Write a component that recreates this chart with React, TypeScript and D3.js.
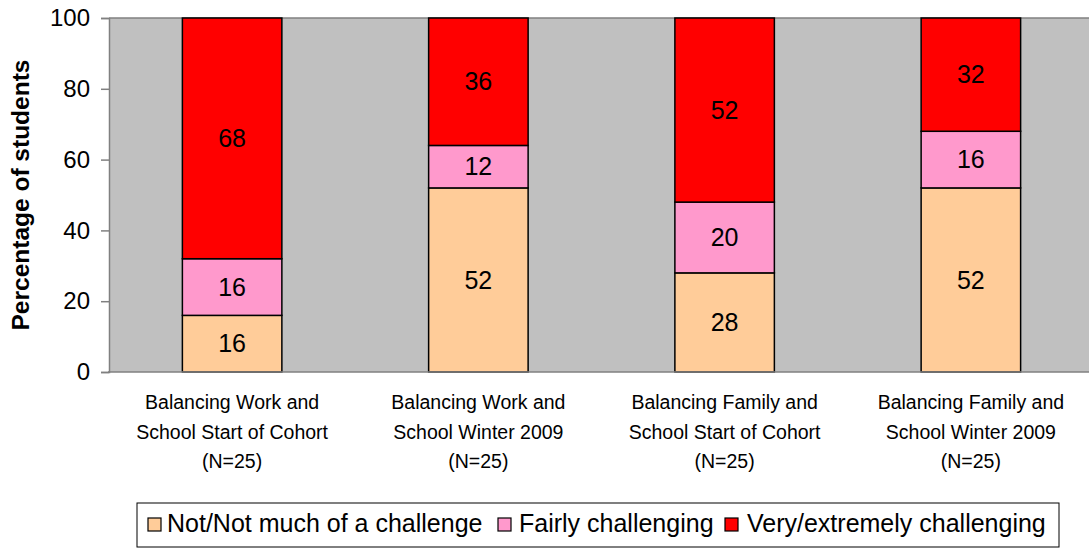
import React, { useEffect, useRef } from 'react';
import * as d3 from 'd3';

const categories = [
  ['Balancing Work and', 'School Start of Cohort', '(N=25)'],
  ['Balancing Work and', 'School Winter 2009', '(N=25)'],
  ['Balancing Family and', 'School Start of Cohort', '(N=25)'],
  ['Balancing Family and', 'School Winter 2009', '(N=25)'],
];
const seriesNames = ['Not/Not much of a challenge', 'Fairly challenging', 'Very/extremely challenging'];
const notMuch = [16, 52, 28, 52];
const fairly = [16, 12, 20, 16];
const very = [68, 36, 52, 32];
const yTicks = [0, 20, 40, 60, 80, 100];
const colors = ['#FFCC99', '#FF99CC', '#FF0000'];

const App: React.FC = () => {
  const svgRef = useRef<SVGSVGElement>(null);

  useEffect(() => {
    if (!svgRef.current) return;
    const width = 1089;
    const height = 550;
    const margin = { top: 18, right: -5, bottom: 178, left: 109 };
    const font = "Arial, 'Liberation Sans', sans-serif";

    d3.select(svgRef.current).selectAll('*').remove();
    const svg = d3.select(svgRef.current)
      .attr('width', width)
      .attr('height', height)
      .style('font-family', font);

    const x = d3.scaleBand<number>()
      .domain(d3.range(categories.length))
      .range([margin.left, width - margin.right])
      .paddingInner(0.596)
      .paddingOuter(0.298);

    const y = d3.scaleLinear()
      .domain([0, 100])
      .range([height - margin.bottom, margin.top]);

    // plot background
    svg.append('rect')
      .attr('x', margin.left)
      .attr('y', y(100))
      .attr('width', width - margin.left - margin.right)
      .attr('height', y(0) - y(100))
      .attr('fill', '#C0C0C0');
    svg.append('line')
      .attr('x1', margin.left).attr('x2', width)
      .attr('y1', y(100)).attr('y2', y(100))
      .attr('stroke', '#808080').attr('stroke-width', 1.5);

    const rows = categories.map((_, i) => [notMuch[i], fairly[i], very[i]]);
    const stack = d3.stack<number[]>().keys(['0', '1', '2']).value((d, k) => d[+k]);
    const layers = stack(rows);

    layers.forEach((layer, s) => {
      const g = svg.append('g');
      g.selectAll('rect')
        .data(layer)
        .enter()
        .append('rect')
        .attr('x', (_, i) => x(i) as number)
        .attr('y', d => y(d[1]))
        .attr('width', x.bandwidth())
        .attr('height', d => y(d[0]) - y(d[1]))
        .attr('fill', colors[s])
        .attr('stroke', '#000')
        .attr('stroke-width', 1.5);
      g.selectAll('text')
        .data(layer)
        .enter()
        .append('text')
        .attr('x', (_, i) => (x(i) as number) + x.bandwidth() / 2)
        .attr('y', d => y((d[0] + d[1]) / 2))
        .attr('dy', '0.35em')
        .attr('text-anchor', 'middle')
        .attr('font-size', 25)
        .text(d => d[1] - d[0]);
    });

    // y axis
    const yAxis = svg.append('g')
      .attr('transform', `translate(${margin.left},0)`)
      .call(d3.axisLeft(y).tickValues(yTicks).tickSize(8).tickPadding(11));
    yAxis.select('.domain').attr('stroke', '#808080').attr('stroke-width', 1.5);
    yAxis.selectAll('.tick line').attr('stroke', '#808080').attr('stroke-width', 1.5);
    yAxis.selectAll('.tick text')
      .attr('font-size', 24)
      .attr('font-family', font)
      .attr('fill', '#000');

    // x axis line
    svg.append('line')
      .attr('x1', margin.left - 1).attr('x2', width)
      .attr('y1', y(0)).attr('y2', y(0))
      .attr('stroke', '#808080').attr('stroke-width', 1.5);

    // category labels
    categories.forEach((lines, i) => {
      const t = svg.append('text')
        .attr('text-anchor', 'middle')
        .attr('font-size', 19.5)
        .attr('y', 409);
      lines.forEach((line, j) => {
        t.append('tspan')
          .attr('x', (x(i) as number) + x.bandwidth() / 2)
          .attr('dy', j === 0 ? 0 : 29.5)
          .text(line);
      });
    });

    // y title
    svg.append('text')
      .attr('transform', `translate(29,${(y(0) + y(100)) / 2}) rotate(-90)`)
      .attr('text-anchor', 'middle')
      .attr('font-size', 24.5)
      .attr('font-weight', 'bold')
      .text('Percentage of students');

    // legend
    const legend = svg.append('g');
    legend.append('rect')
      .attr('x', 137).attr('y', 503)
      .attr('width', 922).attr('height', 44)
      .attr('fill', '#fff')
      .attr('stroke', '#000')
      .attr('stroke-width', 1);
    const swatchX = [148, 498, 725];
    const textX = [167, 519, 747];
    seriesNames.forEach((name, i) => {
      legend.append('rect')
        .attr('x', swatchX[i]).attr('y', 518)
        .attr('width', 13).attr('height', 13)
        .attr('fill', colors[i])
        .attr('stroke', '#000')
        .attr('stroke-width', 1.2);
      legend.append('text')
        .attr('x', textX[i])
        .attr('y', 532)
        .attr('font-size', 25)
        .text(name);
    });
  }, []);

  return <svg ref={svgRef} style={{ position: 'absolute', left: 0, top: 0, display: 'block' }} />;
};

export default App;
